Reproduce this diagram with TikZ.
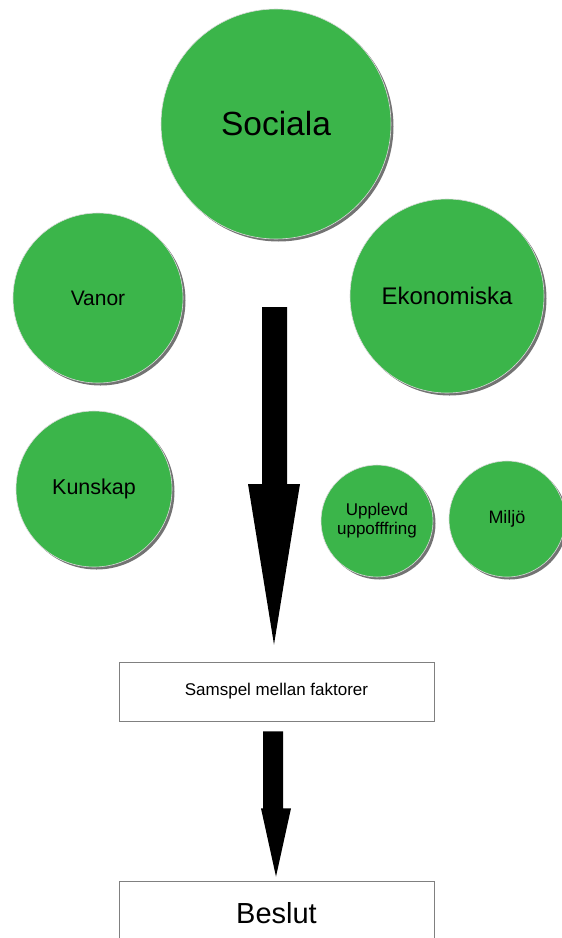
\documentclass[tikz,border=0pt]{standalone}
\usepackage{fontspec}
\setmainfont{Liberation Sans}
\usetikzlibrary{shadows,calc}
\definecolor{leafgreen}{RGB}{59,181,74}
\begin{document}
\begin{tikzpicture}[x=1pt,y=-1pt,
  bubble/.style={circle, fill=leafgreen, draw=white!85!black, line width=0.6pt,
    inner sep=0pt, text=black, align=center,
    drop shadow={shadow xshift=2.5pt, shadow yshift=-2.5pt, fill=black, opacity=0.55}},
  panel/.style={rectangle, draw=black!50, line width=0.8pt, fill=white, inner sep=0pt, text=black},
  blockarrow/.style={fill=black}
]
\useasboundingbox (0,0) rectangle (562,938);

\node[bubble, minimum size=230pt, font=\fontsize{33.5}{40}\selectfont] (sociala) at (276,124) {\raisebox{-3pt}{Sociala}};
\node[bubble, minimum size=170pt, font=\fontsize{21}{25}\selectfont] (vanor) at (98,298) {Vanor};
\node[bubble, minimum size=194pt, font=\fontsize{24}{28}\selectfont] (ekonomiska) at (447,296) {Ekonomiska};
\node[bubble, minimum size=156pt, font=\fontsize{21.5}{26}\selectfont] (kunskap) at (94,489) {Kunskap};
\node[bubble, minimum size=112pt, font=\fontsize{17}{19}\selectfont] (upplevd) at (377,521) {Upplevd\\uppofffring};
\node[bubble, minimum size=116pt, font=\fontsize{18}{22}\selectfont] (miljo) at (507,519) {Miljö};

\node[panel, minimum width=315pt, minimum height=59pt, font=\fontsize{17}{20}\selectfont] (samspel) at (276.5,691.5) {Samspel mellan faktorer};
\node[panel, minimum width=315pt, minimum height=64pt, font=\fontsize{29}{34}\selectfont] (beslut) at (276.5,913) {Beslut};

% large arrow from the factors towards the interplay box
\coordinate (topstart) at (274.5,307);
\coordinate (toptip) at ($(samspel.north)+(-2.5,-17)$);
\fill[blockarrow] (topstart) ++(-12.5,0) -- ++(25,0) -- ++(0,177) -- ++(13,0) -- (toptip)
  -- ($(topstart)+(-26.5,177)$) -- ($(topstart)+(-12.5,177)$) -- cycle;

% arrow from interplay box to decision
\coordinate (midstart) at ($(samspel.south)+(-0.5,10)$);
\coordinate (midtip) at ($(beslut.north)+(-0.5,-4)$);
\fill[blockarrow] ($(midstart)+(-13,0)$) -- ($(midstart)+(7,0)$) -- ($(midstart)+(7,77)$)
  -- ($(midstart)+(15,77)$) -- (midtip) -- ($(midstart)+(-15,77)$) -- ($(midstart)+(-13,77)$) -- cycle;
\end{tikzpicture}
\end{document}
